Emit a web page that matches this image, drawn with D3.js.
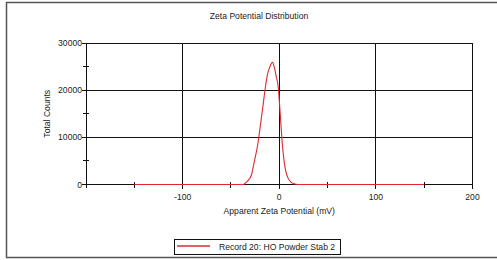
<!DOCTYPE html>
<meta charset="utf-8">
<style>
body { margin: 0; background: #fff; }
svg text { font-family: "Liberation Sans", Arial, sans-serif; fill: #222; font-size: 8.6px; }
</style>
<body>
<svg width="497" height="260"></svg>
<script src="https://cdn.jsdelivr.net/npm/d3@7/dist/d3.min.js"></script>
<script>
// zeta potential (mV) and total counts
var potential = [-150, -37, -36, -33, -29, -26, -22, -20, -17, -14.5, -12, -10, -7, -5, -3, -1, 1, 3, 5, 7, 9, 12, 16, 19, 150];
var counts    = [0, 0, 150, 700, 1900, 4700, 8800, 11800, 16400, 20400, 23500, 24800, 25900, 24800, 22800, 20600, 15000, 9000, 5000, 2600, 1400, 500, 100, 0, 0];
var xTicks = [-200, -100, 0, 100, 200];
var xMinor = [-150, -50, 50, 150];
var yTicks = [0, 10000, 20000, 30000];
var yMinor = [5000, 15000, 25000];
var seriesName = "Record 20: HO Powder Stab 2";

var svg = d3.select("svg");
var pLeft = 86, pRight = 472.5, pTop = 43, pBottom = 184.5;

var x = d3.scaleLinear().domain([-200, 200]).range([pLeft, pRight]);
var y = d3.scaleLinear().domain([0, 30000]).range([pBottom, pTop]);

// outer frame
svg.append("rect").attr("x", 6.5).attr("y", 2.5).attr("width", 500).attr("height", 255)
  .attr("fill", "none").attr("stroke", "#555").attr("stroke-width", 1.5);

svg.append("text").attr("x", 259).attr("y", 19).attr("text-anchor", "middle")
  .text("Zeta Potential Distribution");

// grid
var g = svg.append("g").attr("stroke", "#111").attr("stroke-width", 1).attr("shape-rendering", "crispEdges");
g.selectAll(".vg").data(xTicks).enter().append("line")
  .attr("x1", d => x(d)).attr("x2", d => x(d)).attr("y1", pTop).attr("y2", d => d == -200 ? pBottom + 3 : pBottom + 4);
g.selectAll(".hg").data(yTicks).enter().append("line")
  .attr("x1", pLeft - 4).attr("x2", pRight).attr("y1", d => y(d)).attr("y2", d => y(d));
g.selectAll(".xm").data(xMinor).enter().append("line")
  .attr("x1", d => x(d)).attr("x2", d => x(d)).attr("y1", pBottom - 3).attr("y2", pBottom + 3);
g.selectAll(".ym").data(yMinor).enter().append("line")
  .attr("x1", pLeft - 3).attr("x2", pLeft + 3).attr("y1", d => y(d)).attr("y2", d => y(d));

// tick labels
svg.selectAll(".xl").data(xTicks.filter(d => d != -200)).enter().append("text")
  .attr("x", d => x(d)).attr("y", pBottom + 15).attr("text-anchor", "middle")
  .text(d => d);
svg.selectAll(".yl").data(yTicks).enter().append("text")
  .attr("x", pLeft - 4).attr("y", d => y(d) + 3).attr("text-anchor", "end")
  .text(d => d);

svg.append("text").attr("x", x(0)).attr("y", 214).attr("text-anchor", "middle")
  .text("Apparent Zeta Potential (mV)");
svg.append("text").attr("transform", "translate(50," + ((pTop + pBottom) / 2) + ") rotate(-90)")
  .attr("text-anchor", "middle").text("Total Counts");

// curve
var line = d3.line().x((d, i) => x(potential[i])).y(d => y(d)).curve(d3.curveMonotoneX);
svg.append("path").datum(counts).attr("d", line)
  .attr("fill", "none").attr("stroke", "#e0282e").attr("stroke-width", 1.1);

// legend
svg.append("rect").attr("x", 174.5).attr("y", 239.5).attr("width", 166).attr("height", 15)
  .attr("fill", "none").attr("stroke", "#111").attr("stroke-width", 1);
svg.append("line").attr("x1", 177).attr("x2", 210).attr("y1", 246).attr("y2", 246)
  .attr("stroke", "#e0282e").attr("stroke-width", 1.5);
svg.append("text").attr("x", 219).attr("y", 249.5).text(seriesName);
</script>
</body>
